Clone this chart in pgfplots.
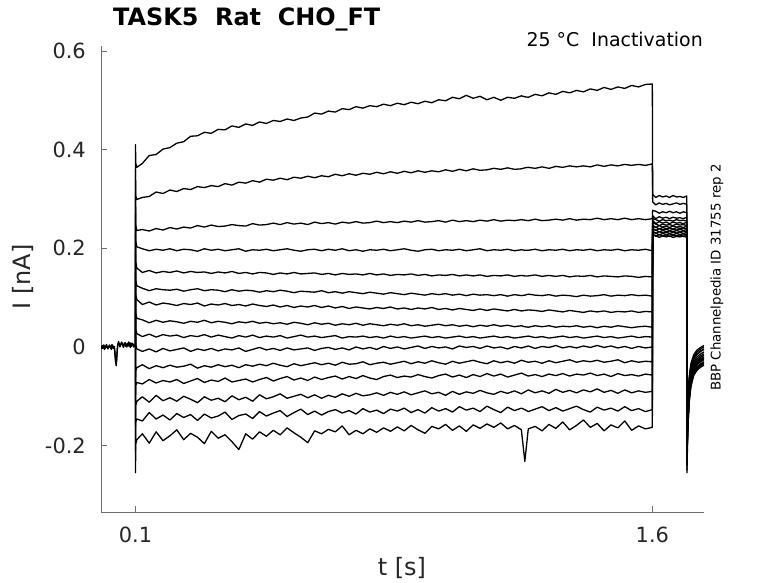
\documentclass[border=0pt]{standalone}
\usepackage{pgfplots}
\pgfplotsset{compat=1.18}
\usepackage{pgfplotstable}
\usepackage{fontspec}
\setmainfont{DejaVu Sans}
\definecolor{axgray}{RGB}{110,110,110}
\definecolor{txt}{RGB}{38,38,38}

\pgfplotstableread{
t y1 y2 y3 y4 y5 y6 y7 y8 y9 y10 y11 y12 y13 y14 y15
0.0999 0.003 0.003 0.003 0.003 0.003 0.003 0.003 0.003 0.003 0.003 0.003 0.003 0.003 0.003 0.003
0.1000 0.41 0.36 0.31 0.27 0.23 0.19 0.15 0.11 0.07 0.03 -0.07 -0.11 -0.16 -0.21 -0.255
0.1010 0.372 0.305 0.245 0.215 0.172 0.135 0.105 0.068 0.035 0.004 -0.048 -0.078 -0.118 -0.152 -0.196
0.1040 0.364 0.299 0.236 0.203 0.160 0.124 0.096 0.058 0.027 -0.004 -0.042 -0.072 -0.110 -0.146 -0.188
0.12 0.372 0.303 0.238 0.199 0.151 0.119 0.086 0.055 0.021 -0.009 -0.036 -0.075 -0.101 -0.150 -0.176
0.14 0.388 0.305 0.235 0.195 0.155 0.114 0.091 0.049 0.026 -0.004 -0.044 -0.066 -0.112 -0.133 -0.195
0.16 0.390 0.314 0.240 0.198 0.150 0.118 0.085 0.054 0.020 -0.010 -0.038 -0.073 -0.098 -0.146 -0.172
0.18 0.401 0.311 0.237 0.196 0.153 0.116 0.089 0.050 0.025 -0.003 -0.042 -0.068 -0.109 -0.138 -0.190
0.20 0.404 0.318 0.242 0.199 0.151 0.115 0.087 0.053 0.022 -0.008 -0.037 -0.071 -0.103 -0.148 -0.180
0.22 0.413 0.315 0.239 0.195 0.154 0.117 0.084 0.051 0.024 -0.005 -0.041 -0.066 -0.110 -0.135 -0.168
0.24 0.416 0.321 0.243 0.198 0.150 0.113 0.088 0.048 0.019 -0.002 -0.039 -0.074 -0.100 -0.143 -0.188
0.26 0.427 0.319 0.241 0.197 0.153 0.116 0.086 0.052 0.023 -0.009 -0.035 -0.069 -0.106 -0.137 -0.175
0.28 0.428 0.325 0.246 0.194 0.151 0.118 0.089 0.050 0.021 -0.004 -0.043 -0.064 -0.113 -0.149 -0.183
0.30 0.435 0.323 0.243 0.199 0.152 0.114 0.083 0.054 0.025 -0.007 -0.038 -0.072 -0.101 -0.136 -0.196
0.32 0.433 0.327 0.247 0.196 0.149 0.116 0.087 0.049 0.020 -0.003 -0.041 -0.067 -0.108 -0.144 -0.171
0.34 0.441 0.325 0.244 0.198 0.152 0.115 0.085 0.052 0.024 -0.008 -0.036 -0.070 -0.104 -0.140 -0.185
0.36 0.440 0.331 0.245 0.195 0.150 0.112 0.088 0.050 0.021 -0.004 -0.040 -0.063 -0.111 -0.132 -0.178
0.38 0.448 0.328 0.248 0.197 0.153 0.116 0.084 0.047 0.018 -0.006 -0.037 -0.071 -0.099 -0.147 -0.192
0.40 0.445 0.334 0.246 0.199 0.149 0.113 0.086 0.051 0.023 -0.002 -0.042 -0.068 -0.107 -0.139 -0.208
0.42 0.452 0.332 0.245 0.194 0.151 0.115 0.083 0.049 0.020 -0.009 -0.036 -0.065 -0.102 -0.136 -0.176
0.44 0.449 0.337 0.250 0.197 0.148 0.114 0.087 0.052 0.024 -0.005 -0.039 -0.071 -0.110 -0.145 -0.187
0.46 0.456 0.334 0.247 0.196 0.151 0.111 0.084 0.048 0.019 -0.001 -0.035 -0.066 -0.097 -0.131 -0.172
0.48 0.453 0.340 0.248 0.198 0.150 0.114 0.082 0.050 0.022 -0.006 -0.038 -0.062 -0.105 -0.140 -0.181
0.50 0.459 0.338 0.251 0.195 0.147 0.112 0.085 0.047 0.020 -0.003 -0.033 -0.069 -0.101 -0.134 -0.169
0.52 0.457 0.342 0.248 0.197 0.150 0.115 0.081 0.049 0.023 -0.007 -0.037 -0.064 -0.095 -0.129 -0.178
0.54 0.462 0.339 0.252 0.199 0.148 0.113 0.084 0.046 0.018 -0.002 -0.040 -0.060 -0.104 -0.141 -0.164
0.56 0.459 0.344 0.249 0.196 0.151 0.110 0.080 0.050 0.021 -0.006 -0.034 -0.067 -0.100 -0.133 -0.174
0.58 0.464 0.342 0.251 0.194 0.148 0.113 0.083 0.048 0.024 -0.004 -0.038 -0.063 -0.096 -0.126 -0.183
0.60 0.466 0.346 0.248 0.197 0.149 0.112 0.081 0.045 0.020 -0.002 -0.035 -0.068 -0.103 -0.137 -0.194
0.62 0.474 0.343 0.253 0.198 0.150 0.111 0.084 0.049 0.022 -0.007 -0.032 -0.061 -0.097 -0.130 -0.170
0.64 0.472 0.347 0.250 0.195 0.147 0.114 0.080 0.046 0.019 -0.003 -0.036 -0.066 -0.104 -0.138 -0.176
0.66 0.478 0.345 0.252 0.198 0.149 0.110 0.083 0.048 0.021 -0.001 -0.033 -0.062 -0.098 -0.131 -0.167
0.68 0.476 0.350 0.249 0.196 0.146 0.112 0.079 0.044 0.023 -0.005 -0.037 -0.059 -0.102 -0.127 -0.172
0.70 0.483 0.347 0.253 0.199 0.149 0.109 0.082 0.047 0.018 -0.002 -0.031 -0.065 -0.095 -0.134 -0.160
0.72 0.481 0.351 0.251 0.195 0.147 0.112 0.078 0.045 0.021 -0.006 -0.035 -0.060 -0.100 -0.129 -0.178
0.74 0.487 0.348 0.254 0.197 0.148 0.110 0.081 0.048 0.020 0.000 -0.034 -0.064 -0.094 -0.136 -0.169
0.76 0.484 0.352 0.251 0.194 0.146 0.108 0.079 0.044 0.022 -0.004 -0.030 -0.058 -0.099 -0.125 -0.176
0.78 0.489 0.350 0.252 0.197 0.149 0.111 0.077 0.047 0.019 -0.001 -0.036 -0.063 -0.097 -0.132 -0.166
0.80 0.487 0.354 0.255 0.196 0.146 0.109 0.080 0.045 0.021 -0.005 -0.033 -0.066 -0.093 -0.128 -0.173
0.82 0.492 0.351 0.252 0.198 0.148 0.107 0.078 0.043 0.018 0.001 -0.031 -0.060 -0.098 -0.135 -0.164
0.84 0.489 0.355 0.254 0.195 0.145 0.110 0.081 0.046 0.022 -0.003 -0.035 -0.057 -0.092 -0.126 -0.171
0.86 0.494 0.352 0.252 0.197 0.147 0.108 0.077 0.044 0.019 0.000 -0.032 -0.062 -0.096 -0.130 -0.162
0.88 0.491 0.356 0.255 0.199 0.146 0.106 0.079 0.047 0.021 -0.004 -0.029 -0.059 -0.091 -0.124 -0.170
0.90 0.496 0.353 0.253 0.196 0.148 0.109 0.076 0.043 0.018 -0.001 -0.034 -0.061 -0.097 -0.133 -0.159
0.92 0.493 0.357 0.256 0.194 0.145 0.107 0.079 0.045 0.020 0.002 -0.030 -0.056 -0.093 -0.127 -0.168
0.94 0.498 0.354 0.253 0.197 0.147 0.105 0.077 0.042 0.022 -0.003 -0.033 -0.060 -0.089 -0.134 -0.175
0.96 0.495 0.357 0.254 0.198 0.144 0.108 0.080 0.044 0.019 0.001 -0.028 -0.063 -0.095 -0.123 -0.161
0.98 0.501 0.355 0.256 0.195 0.146 0.106 0.076 0.046 0.021 -0.002 -0.032 -0.058 -0.092 -0.130 -0.166
1.00 0.499 0.359 0.253 0.197 0.145 0.108 0.078 0.043 0.018 0.000 -0.035 -0.055 -0.098 -0.125 -0.157
1.02 0.506 0.356 0.257 0.196 0.147 0.105 0.075 0.045 0.020 -0.004 -0.029 -0.061 -0.090 -0.132 -0.169
1.04 0.503 0.360 0.254 0.198 0.144 0.107 0.078 0.042 0.022 0.002 -0.033 -0.057 -0.096 -0.121 -0.160
1.06 0.510 0.357 0.256 0.195 0.146 0.104 0.076 0.044 0.019 -0.001 -0.030 -0.062 -0.091 -0.128 -0.171
1.08 0.504 0.361 0.254 0.197 0.144 0.107 0.074 0.041 0.021 0.001 -0.027 -0.056 -0.094 -0.124 -0.158
1.10 0.508 0.358 0.257 0.199 0.146 0.105 0.077 0.044 0.018 -0.003 -0.031 -0.060 -0.088 -0.131 -0.165
1.12 0.501 0.359 0.255 0.195 0.143 0.106 0.074 0.042 0.020 0.002 -0.034 -0.054 -0.093 -0.120 -0.156
1.14 0.506 0.362 0.258 0.197 0.145 0.104 0.077 0.045 0.022 -0.002 -0.028 -0.059 -0.096 -0.127 -0.163
1.16 0.500 0.360 0.255 0.196 0.144 0.106 0.075 0.042 0.019 0.000 -0.032 -0.055 -0.090 -0.133 -0.154
1.18 0.506 0.363 0.257 0.198 0.146 0.103 0.073 0.044 0.021 -0.004 -0.029 -0.061 -0.094 -0.122 -0.166
1.20 0.504 0.360 0.256 0.195 0.143 0.106 0.076 0.041 0.018 0.001 -0.033 -0.057 -0.089 -0.129 -0.159
1.22 0.509 0.361 0.258 0.197 0.145 0.104 0.073 0.043 0.020 -0.002 -0.027 -0.053 -0.095 -0.124 -0.168
1.23 0.507 0.363 0.257 0.196 0.144 0.105 0.074 0.041 0.021 0.000 -0.029 -0.056 -0.091 -0.127 -0.232
1.24 0.506 0.364 0.256 0.196 0.144 0.107 0.075 0.040 0.022 0.002 -0.031 -0.059 -0.087 -0.131 -0.166
1.26 0.512 0.362 0.259 0.198 0.146 0.105 0.074 0.043 0.019 -0.003 -0.029 -0.056 -0.093 -0.126 -0.161
1.28 0.509 0.365 0.256 0.195 0.143 0.104 0.072 0.041 0.021 0.001 -0.033 -0.060 -0.089 -0.121 -0.170
1.30 0.515 0.362 0.257 0.197 0.145 0.106 0.075 0.043 0.018 -0.001 -0.028 -0.055 -0.094 -0.129 -0.157
1.32 0.512 0.366 0.259 0.196 0.143 0.103 0.073 0.040 0.020 0.003 -0.032 -0.058 -0.086 -0.123 -0.165
1.34 0.518 0.364 0.257 0.198 0.145 0.105 0.071 0.042 0.022 -0.002 -0.029 -0.054 -0.092 -0.130 -0.152
1.36 0.515 0.367 0.260 0.195 0.142 0.104 0.074 0.041 0.019 0.001 -0.026 -0.059 -0.088 -0.125 -0.168
1.38 0.520 0.365 0.257 0.197 0.144 0.102 0.072 0.043 0.021 -0.002 -0.031 -0.055 -0.093 -0.120 -0.159
1.40 0.517 0.367 0.259 0.196 0.143 0.105 0.070 0.040 0.018 0.002 -0.028 -0.057 -0.087 -0.127 -0.148
1.42 0.523 0.365 0.258 0.198 0.145 0.103 0.073 0.042 0.020 -0.001 -0.030 -0.053 -0.091 -0.132 -0.163
1.44 0.520 0.369 0.261 0.195 0.142 0.104 0.071 0.039 0.022 0.003 -0.027 -0.058 -0.085 -0.122 -0.155
1.46 0.526 0.366 0.258 0.197 0.144 0.106 0.073 0.042 0.019 -0.001 -0.031 -0.055 -0.092 -0.128 -0.170
1.48 0.522 0.369 0.260 0.196 0.143 0.103 0.070 0.040 0.021 0.002 -0.029 -0.060 -0.088 -0.124 -0.158
1.50 0.527 0.367 0.258 0.198 0.142 0.105 0.072 0.043 0.018 -0.002 -0.026 -0.054 -0.094 -0.130 -0.164
1.52 0.524 0.370 0.261 0.195 0.144 0.104 0.071 0.041 0.020 0.001 -0.032 -0.058 -0.087 -0.121 -0.150
1.54 0.530 0.368 0.258 0.197 0.143 0.106 0.073 0.039 0.022 -0.003 -0.028 -0.056 -0.093 -0.129 -0.169
1.56 0.527 0.370 0.260 0.196 0.141 0.104 0.070 0.041 0.019 0.001 -0.031 -0.059 -0.089 -0.125 -0.160
1.58 0.532 0.368 0.258 0.198 0.143 0.105 0.072 0.042 0.021 -0.002 -0.029 -0.055 -0.092 -0.131 -0.166
1.60 0.533 0.371 0.260 0.195 0.142 0.103 0.071 0.040 0.020 0.000 -0.030 -0.057 -0.090 -0.127 -0.163
1.601 0.309 0.294 0.277 0.266 0.260 0.256 0.252 0.247 0.244 0.241 0.238 0.235 0.232 0.229 0.227
1.61 0.303 0.288 0.275 0.260 0.258 0.250 0.249 0.242 0.243 0.236 0.237 0.230 0.231 0.224 0.226
1.62 0.307 0.292 0.271 0.264 0.255 0.254 0.246 0.246 0.239 0.240 0.233 0.234 0.227 0.228 0.222
1.63 0.304 0.289 0.274 0.261 0.258 0.251 0.249 0.243 0.242 0.237 0.236 0.231 0.230 0.225 0.225
1.64 0.306 0.291 0.272 0.263 0.256 0.253 0.247 0.245 0.240 0.239 0.234 0.233 0.228 0.227 0.223
1.65 0.303 0.288 0.275 0.260 0.257 0.250 0.248 0.242 0.241 0.236 0.235 0.230 0.229 0.224 0.225
1.66 0.307 0.290 0.272 0.263 0.255 0.253 0.246 0.245 0.239 0.238 0.233 0.232 0.227 0.226 0.222
1.67 0.304 0.292 0.274 0.261 0.258 0.251 0.249 0.243 0.242 0.237 0.236 0.231 0.230 0.225 0.224
1.68 0.305 0.289 0.271 0.262 0.256 0.252 0.247 0.244 0.240 0.239 0.234 0.233 0.228 0.227 0.223
1.69 0.303 0.291 0.274 0.260 0.257 0.250 0.248 0.242 0.241 0.236 0.235 0.230 0.229 0.224 0.225
1.70 0.306 0.289 0.272 0.263 0.255 0.253 0.246 0.245 0.239 0.238 0.233 0.232 0.227 0.226 0.222
1.7005 -0.17 -0.18 -0.19 -0.20 -0.21 -0.22 -0.23 -0.24 -0.25 -0.255 -0.24 -0.23 -0.22 -0.21 -0.20
1.703 -0.140 -0.150 -0.120 -0.160 -0.130 -0.170 -0.110 -0.150 -0.125 -0.165 -0.135 -0.100 -0.145 -0.115 -0.155
1.707 -0.095 -0.100 -0.075 -0.110 -0.085 -0.105 -0.065 -0.098 -0.080 -0.112 -0.090 -0.060 -0.093 -0.070 -0.103
1.712 -0.062 -0.070 -0.045 -0.078 -0.055 -0.072 -0.038 -0.066 -0.050 -0.080 -0.058 -0.034 -0.064 -0.042 -0.074
1.72 -0.040 -0.048 -0.025 -0.055 -0.034 -0.050 -0.020 -0.044 -0.030 -0.058 -0.037 -0.016 -0.042 -0.024 -0.052
1.73 -0.030 -0.036 -0.014 -0.044 -0.024 -0.040 -0.010 -0.034 -0.020 -0.047 -0.027 -0.006 -0.032 -0.015 -0.042
1.74 -0.024 -0.030 -0.008 -0.038 -0.018 -0.034 -0.004 -0.028 -0.014 -0.041 -0.021 -0.001 -0.026 -0.009 -0.036
1.75 -0.020 -0.026 -0.004 -0.034 -0.014 -0.030 0.000 -0.024 -0.010 -0.037 -0.017 0.003 -0.022 -0.005 -0.032
}\sweeps

\pgfplotstableread{
t y
0 0.002
0.004 -0.003
0.008 0.004
0.012 -0.001
0.016 0.005
0.020 -0.004
0.024 0.003
0.028 -0.002
0.032 0.005
0.036 -0.003
0.039 0.001
0.041 -0.015
0.043 -0.034
0.045 -0.030
0.047 -0.008
0.049 0.006
0.052 0.008
0.056 0.003
0.060 0.009
0.064 0.002
0.068 0.008
0.072 0.001
0.076 0.007
0.080 0.002
0.084 0.009
0.088 0.001
0.092 0.007
0.096 0.002
0.0999 0.005
}\baseA

\pgfplotstableread{
t y
0 -0.004
0.005 0.003
0.010 -0.005
0.015 0.002
0.020 -0.003
0.025 0.004
0.030 -0.005
0.035 0.002
0.039 -0.004
0.042 -0.028
0.044 -0.038
0.046 -0.020
0.048 0.002
0.051 0.011
0.055 0.000
0.060 0.010
0.065 -0.001
0.070 0.009
0.075 0.000
0.080 0.010
0.085 -0.001
0.090 0.008
0.095 0.000
0.0999 0.003
}\baseB

\begin{document}
\begin{tikzpicture}[x=1bp,y=1bp]
\useasboundingbox (0,0) rectangle (778,583);
\begin{axis}[
  at={(101bp,71bp)}, anchor=south west,
  scale only axis, width=603bp, height=466bp,
  xmin=0, xmax=1.75, ymin=-0.3345, ymax=0.61,
  axis x line=bottom, axis y line=left,
  axis line style={-, draw=axgray, line width=0.6bp},
  xtick={0.1,1.6}, xticklabels={0.1,1.6},
  ytick={-0.2,0,0.2,0.4,0.6}, yticklabels={-0.2,0,0.2,0.4,0.6},
  tick align=inside, major tick length=6bp,
  tick style={draw=axgray, line width=0.6bp},
  ticklabel style={font=\fontsize{21}{21}\selectfont, text=txt},
  yticklabel style={inner sep=0pt, anchor=east, xshift=-15bp},
  xticklabel style={inner sep=0pt, anchor=north, yshift=-15bp},
  clip=true,
]
\addplot[black, line width=1.3bp, line join=round] table[x=t,y=y] {\baseA};
\addplot[black, line width=1.3bp, line join=round] table[x=t,y=y] {\baseB};
\pgfplotsinvokeforeach{1,...,15}{
  \addplot[black, line width=1.3bp, line join=round] table[x=t,y=y#1] {\sweeps};
}
\end{axis}
\node[anchor=base west, inner sep=0pt, font=\fontsize{24}{24}\selectfont\bfseries, text=black] at (113,557) {TASK5\ \ Rat\ \ CHO\_FT};
\node[anchor=base east, inner sep=0pt, font=\fontsize{19}{19}\selectfont, text=black] at (703,536) {25 °C\ \ Inactivation};
\node[rotate=90, inner sep=0pt, font=\fontsize{13.4}{13.4}\selectfont, text=black] at (717,305.5) {BBP Channelpedia ID 31755 rep 2};
\node[rotate=90, inner sep=0pt, font=\fontsize{24}{24}\selectfont, text=txt] at (23,306) {I [nA]};
\node[inner sep=0pt, font=\fontsize{24}{24}\selectfont, text=txt] at (402,15) {t [s]};
\end{tikzpicture}
\end{document}
